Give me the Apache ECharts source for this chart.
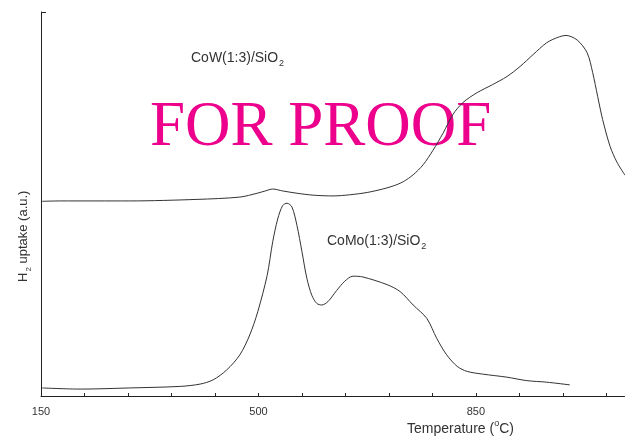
<!DOCTYPE html>
<html>
<head>
<meta charset="utf-8">
<script src="https://cdn.jsdelivr.net/npm/echarts@6/dist/echarts.min.js"></script>
<style>
  html, body { margin: 0; padding: 0; background: #fff; }
  #chart { width: 625px; height: 436px; }
</style>
</head>
<body>
<div id="chart"></div>
<script>
// TPR profiles: temperature (°C) and hydrogen uptake (arbitrary units)
const cowTemp = [152, 181, 293, 401, 470, 498, 511, 523, 539, 562, 588, 620, 647, 675, 700, 717, 733, 749, 765, 781, 797, 813, 829, 852, 877, 900, 921, 942, 964, 982, 995, 1013, 1029, 1038, 1046, 1054, 1066, 1077, 1090];
const cowUptake = [50.7, 50.8, 50.8, 51.2, 51.8, 52.8, 53.4, 53.9, 53.4, 52.8, 52.3, 52.1, 52.4, 53.0, 53.9, 54.7, 55.8, 57.6, 60.2, 64.0, 68.4, 73.3, 76.4, 79.0, 81.1, 83.2, 85.8, 88.9, 92.0, 93.4, 93.9, 92.7, 89.4, 84.2, 78.0, 72.0, 65.0, 60.9, 57.5];

const comoTemp = [152, 213, 293, 374, 406, 427, 449, 470, 486, 499, 514, 523, 531, 539, 546, 554, 562, 570, 578, 586, 594, 602, 612, 626, 639, 652, 668, 707, 728, 749, 771, 787, 803, 820, 836, 861, 900, 932, 964, 1001];
const comoUptake = [2.1, 1.8, 2.1, 2.5, 3.1, 4.2, 6.8, 10.7, 15.9, 22.0, 31.4, 40.2, 46.1, 49.6, 50.2, 49.2, 44.4, 37.6, 30.6, 26.2, 24.1, 23.7, 24.6, 27.5, 29.9, 31.2, 31.0, 29.0, 27.2, 23.7, 20.2, 15.0, 10.7, 7.7, 6.4, 5.7, 4.9, 4.0, 3.6, 2.9];

const tempTickLabels = [150, 500, 850];

const pairs = (xs, ys) => xs.map((x, i) => [x, ys[i]]);

const chart = echarts.init(document.getElementById('chart'), null, { renderer: 'canvas' });

const sansFont = '"Liberation Sans", Arial, sans-serif';
const inkColor = '#333';

// rich-text styles for chemical formulae (subscripts) and units (superscripts)
const formulaRich = size => ({
  m: { fontFamily: sansFont, fontSize: size, fill: inkColor, lineHeight: 18, verticalAlign: 'bottom' },
  s: { fontFamily: sansFont, fontSize: Math.round(size * 0.62), fill: inkColor, lineHeight: 18, verticalAlign: 'bottom', padding: [0, 0, -3, 1] },
  p: { fontFamily: sansFont, fontSize: Math.round(size * 0.62), fill: inkColor, lineHeight: 18, verticalAlign: 'top', padding: [1, 0, 0, 0] }
});

chart.setOption({
  animation: false,
  backgroundColor: '#fff',
  grid: { left: 41, right: 0, top: 12, bottom: 40, containLabel: false },
  xAxis: {
    type: 'value',
    min: 150,
    max: 1090,
    interval: 70,
    axisLine: { show: true, lineStyle: { color: '#222', width: 1 } },
    axisTick: { show: true, inside: true, length: 3, lineStyle: { color: '#222' } },
    splitLine: { show: false },
    axisLabel: {
      margin: 10,
      color: inkColor,
      fontFamily: sansFont,
      fontSize: 11,
      showMaxLabel: false,
      formatter: v => (tempTickLabels.includes(v) ? String(v) : '')
    }
  },
  yAxis: {
    type: 'value',
    min: 0,
    max: 100,
    interval: 100,
    axisLine: { show: true, lineStyle: { color: '#222', width: 1 } },
    axisTick: { show: true, inside: true, length: 5, lineStyle: { color: '#222' } },
    axisLabel: { show: false },
    splitLine: { show: false }
  },
  series: [
    {
      name: 'CoW(1:3)/SiO2',
      type: 'line',
      data: pairs(cowTemp, cowUptake),
      smooth: 0.3,
      showSymbol: false,
      lineStyle: { color: '#333', width: 1 },
      z: 5
    },
    {
      name: 'CoMo(1:3)/SiO2',
      type: 'line',
      data: pairs(comoTemp, comoUptake),
      smooth: 0.3,
      showSymbol: false,
      lineStyle: { color: '#333', width: 1 },
      z: 5
    }
  ],
  graphic: [
    {
      type: 'text',
      z: 1,
      left: 150,
      top: 97,
      style: {
        text: 'FOR PROOF',
        fill: '#EC008C',
        font: '63px "Liberation Serif", "Times New Roman", serif'
      }
    },
    {
      type: 'text',
      z: 10,
      left: 191,
      top: 51,
      style: { text: '{m|CoW(1:3)/SiO}{s|2}', rich: formulaRich(14) }
    },
    {
      type: 'text',
      z: 10,
      left: 327,
      top: 234,
      style: { text: '{m|CoMo(1:3)/SiO}{s|2}', rich: formulaRich(14) }
    },
    {
      type: 'text',
      z: 10,
      left: 407,
      top: 418,
      style: { text: '{m|Temperature (}{p|o}{m|C)}', rich: formulaRich(14) }
    },
    {
      type: 'text',
      z: 10,
      x: 12,
      y: 282,
      rotation: Math.PI / 2,
      style: { text: '{m|H}{s|2}{m| uptake (a.u.)}', rich: formulaRich(13) }
    }
  ]
});
</script>
</body>
</html>
